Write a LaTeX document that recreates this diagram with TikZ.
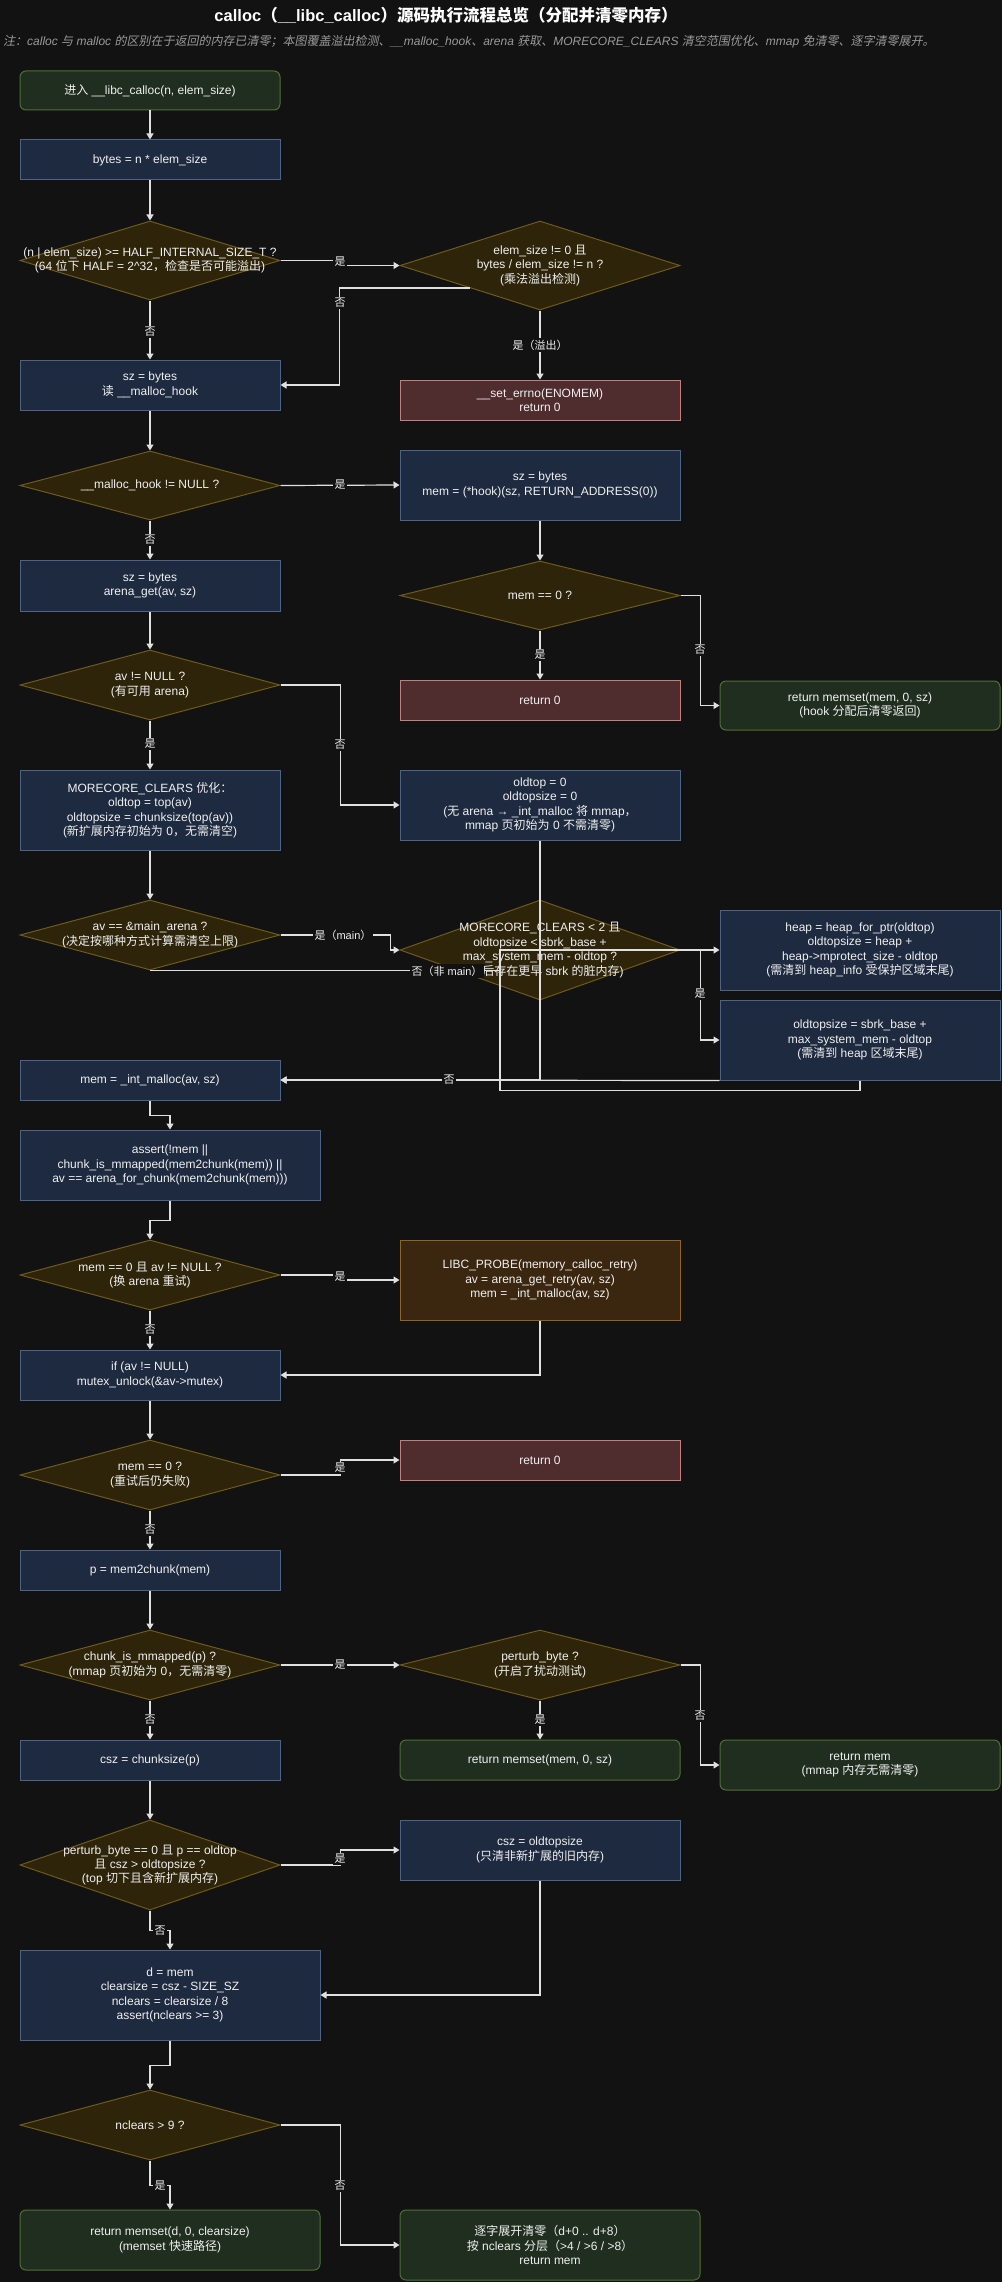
\documentclass[tikz,border=0pt]{standalone}
\usepackage{fontspec}
\setmainfont{Liberation Sans}
\newfontfamily\cjkfont{Noto Sans CJK SC}[AutoFakeSlant=0.2]
\usetikzlibrary{shapes.geometric,arrows.meta,calc}
\XeTeXinterchartokenstate=1
\chardef\CJKcls=10
\newcount\cjkcnt
\cjkcnt="3000
\loop\XeTeXcharclass\cjkcnt=\CJKcls\advance\cjkcnt by 1\relax\ifnum\cjkcnt<"3040\repeat
\cjkcnt="4E00
\loop\XeTeXcharclass\cjkcnt=\CJKcls\advance\cjkcnt by 1\relax\ifnum\cjkcnt<"A000\repeat
\cjkcnt="FF00
\loop\XeTeXcharclass\cjkcnt=\CJKcls\advance\cjkcnt by 1\relax\ifnum\cjkcnt<"FFF0\repeat
\XeTeXinterchartoks 0 \CJKcls={\begingroup\cjkfont}
\XeTeXinterchartoks 4095 \CJKcls={\begingroup\cjkfont}
\XeTeXinterchartoks \CJKcls 0={\endgroup}
\XeTeXinterchartoks \CJKcls 4095={\endgroup}
\definecolor{bgc}{HTML}{121212}
\definecolor{bluef}{HTML}{1D2A3F}
\definecolor{blueb}{HTML}{4E6485}
\definecolor{redf}{HTML}{4F2C2D}
\definecolor{redb}{HTML}{C08080}
\definecolor{greenf}{HTML}{1F2E1F}
\definecolor{greenb}{HTML}{4F7035}
\definecolor{orf}{HTML}{3B2710}
\definecolor{orb}{HTML}{8D6422}
\definecolor{diaf}{HTML}{2D2409}
\definecolor{diab}{HTML}{6E5A1C}
\definecolor{txtc}{HTML}{F0F0F0}
\definecolor{notec}{HTML}{9A9A9A}
\definecolor{linec}{HTML}{E0E0E0}
\tikzset{
 base/.style={draw, line width=1pt, align=center, text=txtc, font=\fontsize{12}{14.4}\selectfont, inner sep=0pt},
 bbox/.style={base, rectangle, fill=bluef, draw=blueb},
 rbox/.style={base, rectangle, fill=redf, draw=redb},
 gbox/.style={base, rectangle, rounded corners=6pt, fill=greenf, draw=greenb},
 obox/.style={base, rectangle, fill=orf, draw=orb},
 dia/.style={draw=diab, fill=diaf, line width=1pt, shape=diamond, inner sep=0pt},
 dtxt/.style={align=center, text=txtc, font=\fontsize{12}{14.4}\selectfont, inner sep=0pt},
 arr/.style={draw=linec, line width=1.2pt, -{Triangle[length=6pt,width=7pt]}},
 ln/.style={draw=linec, line width=1.2pt},
 lbl/.style={fill=bgc, text=txtc, font=\fontsize{11}{13}\selectfont, inner sep=1.5pt},
 ttl/.style={text=white, font=\bfseries\fontsize{16.5}{20}\selectfont, inner sep=0pt},
 notes/.style={text=notec, font=\itshape\fontsize{12}{14.4}\selectfont, inner sep=0pt}
}
\begin{document}
\begin{tikzpicture}[x=1pt,y=-1pt]
\fill[bgc] (0,0) rectangle (1002,2282);
\useasboundingbox (0,0) rectangle (1002,2282);

\node[ttl] (title) at (446,15) {calloc（\_\_libc\_calloc）源码执行流程总览（分配并清零内存）};
\node[notes, anchor=west] (note) at (3,42) {注：calloc 与 malloc 的区别在于返回的内存已清零；本图覆盖溢出检测、\_\_malloc\_hook、arena 获取、MORECORE\_CLEARS 清空范围优化、mmap 免清零、逐字清零展开。};

% nodes
\node[gbox, minimum width=260pt, minimum height=39pt] (start) at (150,90.5) {进入 \_\_libc\_calloc(n, elem\_size)};
\node[bbox, minimum width=260pt, minimum height=40pt] (bytes) at (150,160) {bytes = n * elem\_size};
\node[dia, minimum width=260pt, minimum height=79pt] (d1) at (150,260.5) {};
\node[dtxt] (d1t) at (d1.center) {(n | elem\_size) >= HALF\_INTERNAL\_SIZE\_T ?\\(64 位下 HALF = 2\textasciicircum 32，检查是否可能溢出)};
\node[dia, minimum width=280pt, minimum height=89pt] (d2) at (540,265.5) {};
\node[dtxt] (d2t) at (d2.center) {elem\_size != 0 且\\bytes / elem\_size != n ?\\(乘法溢出检测)};
\node[bbox, minimum width=260pt, minimum height=50pt] (szread) at (150,385) {sz = bytes\\读 \_\_malloc\_hook};
\node[rbox, minimum width=280pt, minimum height=40pt] (errno) at (540,400) {\_\_set\_errno(ENOMEM)\\return 0};
\node[dia, minimum width=260pt, minimum height=69pt] (hookd) at (150,485.5) {};
\node[dtxt] (hookdt) at (hookd.center) {\_\_malloc\_hook != NULL ?};
\node[bbox, minimum width=280pt, minimum height=70pt] (hookbox) at (540,485) {sz = bytes\\mem = (*hook)(sz, RETURN\_ADDRESS(0))};
\node[dia, minimum width=280pt, minimum height=69pt] (mem0) at (540,595.5) {};
\node[dtxt] (mem0t) at (mem0.center) {mem == 0 ?};
\node[rbox, minimum width=280pt, minimum height=40pt] (ret0a) at (540,700) {return 0};
\node[gbox, minimum width=280pt, minimum height=49pt] (retms) at (860,705.5) {return memset(mem, 0, sz)\\(hook 分配后清零返回)};
\node[bbox, minimum width=260pt, minimum height=51pt] (arena) at (150,585.5) {sz = bytes\\arena\_get(av, sz)};
\node[dia, minimum width=260pt, minimum height=70pt] (avd) at (150,685) {};
\node[dtxt] (avdt) at (avd.center) {av != NULL ?\\(有可用 arena)};
\node[bbox, minimum width=260pt, minimum height=80pt] (morec) at (150,810) {MORECORE\_CLEARS 优化：\\oldtop = top(av)\\oldtopsize = chunksize(top(av))\\(新扩展内存初始为 0，无需清空)};
\node[bbox, minimum width=280pt, minimum height=70pt] (oldtop0) at (540,805) {oldtop = 0\\oldtopsize = 0\\(无 arena → \_int\_malloc 将 mmap，\\mmap 页初始为 0 不需清零)};
\node[dia, minimum width=260pt, minimum height=70pt] (maind) at (150,935) {};
\node[dtxt] (maindt) at (maind.center) {av == \&main\_arena ?\\(决定按哪种方式计算需清空上限)};
\node[dia, minimum width=280pt, minimum height=100pt] (mcd) at (540,950) {};
\node[dtxt] (mcdt) at (mcd.center) {MORECORE\_CLEARS < 2 且\\oldtopsize < sbrk\_base +\\max\_system\_mem - oldtop ?\\\hspace*{26pt}后存在更早 sbrk 的脏内存)};
\node[bbox, minimum width=280pt, minimum height=80pt] (heap) at (860,950) {heap = heap\_for\_ptr(oldtop)\\oldtopsize = heap +\\heap->mprotect\_size - oldtop\\(需清到 heap\_info 受保护区域末尾)};
\node[bbox, minimum width=280pt, minimum height=80pt] (oldsz) at (860,1040) {oldtopsize = sbrk\_base +\\max\_system\_mem - oldtop\\(需清到 heap 区域末尾)};
\node[bbox, minimum width=260pt, minimum height=40pt] (intm) at (150,1080) {mem = \_int\_malloc(av, sz)};
\node[bbox, minimum width=300pt, minimum height=70pt] (assert) at (170,1165) {assert(!mem ||\\chunk\_is\_mmapped(mem2chunk(mem)) ||\\av == arena\_for\_chunk(mem2chunk(mem)))};
\node[dia, minimum width=260pt, minimum height=70pt] (retryd) at (150,1275) {};
\node[dtxt] (retrydt) at (retryd.center) {mem == 0 且 av != NULL ?\\(换 arena 重试)};
\node[obox, minimum width=280pt, minimum height=80pt] (retry) at (540,1280) {LIBC\_PROBE(memory\_calloc\_retry)\\av = arena\_get\_retry(av, sz)\\mem = \_int\_malloc(av, sz)};
\node[bbox, minimum width=260pt, minimum height=50pt] (unlock) at (150,1375) {if (av != NULL)\\mutex\_unlock(\&av->mutex)};
\node[dia, minimum width=260pt, minimum height=70pt] (fail) at (150,1475) {};
\node[dtxt] (failt) at (fail.center) {mem == 0 ?\\(重试后仍失败)};
\node[rbox, minimum width=280pt, minimum height=40pt] (ret0b) at (540,1460) {return 0};
\node[bbox, minimum width=260pt, minimum height=40pt] (p) at (150,1570) {p = mem2chunk(mem)};
\node[dia, minimum width=260pt, minimum height=70pt] (mmapd) at (150,1665) {};
\node[dtxt] (mmapdt) at (mmapd.center) {chunk\_is\_mmapped(p) ?\\(mmap 页初始为 0，无需清零)};
\node[dia, minimum width=280pt, minimum height=70pt] (perturbd) at (540,1665) {};
\node[dtxt] (perturbdt) at (perturbd.center) {perturb\_byte ?\\(开启了扰动测试)};
\node[gbox, minimum width=280pt, minimum height=40pt] (retms2) at (540,1760) {return memset(mem, 0, sz)};
\node[gbox, minimum width=280pt, minimum height=50pt] (retmem) at (860,1765) {return mem\\(mmap 内存无需清零)};
\node[bbox, minimum width=260pt, minimum height=40pt] (csz) at (150,1760) {csz = chunksize(p)};
\node[dia, minimum width=260pt, minimum height=90pt] (topd) at (150,1865) {};
\node[dtxt] (topdt) at (topd.center) {perturb\_byte == 0 且 p == oldtop\\且 csz > oldtopsize ?\\(top 切下且含新扩展内存)};
\node[bbox, minimum width=280pt, minimum height=60pt] (cszold) at (540,1850) {csz = oldtopsize\\(只清非新扩展的旧内存)};
\node[bbox, minimum width=300pt, minimum height=90pt] (dbox) at (170,1995) {d = mem\\clearsize = csz - SIZE\_SZ\\nclears = clearsize / 8\\assert(nclears >= 3)};
\node[dia, minimum width=260pt, minimum height=70pt] (ncd) at (150,2125) {};
\node[dtxt] (ncdt) at (ncd.center) {nclears > 9 ?};
\node[gbox, minimum width=300pt, minimum height=60pt] (retms3) at (170,2240) {return memset(d, 0, clearsize)\\(memset 快速路径)};
\node[gbox, minimum width=300pt, minimum height=70pt] (unroll) at (550,2245) {逐字展开清零（d+0 .. d+8）\\按 nclears 分层（>4 / >6 / >8）\\return mem};

% edges
\draw[arr] (start.south) -- (bytes.north);
\draw[arr] (bytes.south) -- (d1.north);
\draw[arr] (d1.east) -- ++(59,0) |- (d2.west);
\draw[arr] ($(d2.west)!0.5!(d2.south)$) -- ++(-130,0) |- (szread.east);
\draw[arr] (d1.south) -- (szread.north);
\draw[arr] (d2.south) -- (errno.north);
\draw[arr] (szread.south) -- (hookd.north);
\draw[arr] (hookd.east) -- (hookbox.west);
\draw[arr] (hookbox.south) -- (mem0.north);
\draw[arr] (mem0.south) -- (ret0a.north);
\draw[arr] (mem0.east) -- ++(20,0) |- (retms.west);
\draw[arr] (hookd.south) -- (arena.north);
\draw[arr] (arena.south) -- (avd.north);
\draw[arr] (avd.south) -- (morec.north);
\draw[arr] (avd.east) -- ++(60,0) |- (oldtop0.west);
\draw[arr] (morec.south) -- (maind.north);
\draw[arr] (maind.east) -- ++(110,0) |- (mcd.west);
\draw[arr] (maind.south) -- ++(350,0) |- (heap.west);
\draw[arr] (mcd.east) -- ++(20,0) |- (oldsz.west);
\draw[ln] (oldtop0.south) -- (mcd.south);
\draw[arr] (mcd.south) |- (intm.east);
\draw[arr] (oldsz.south west) -- (intm.east);
\draw[ln] (oldsz.south) -- ++(0,10) -| ($(maind.south)+(350,0)$);
\draw[arr] (intm.south) -- ++(0,15) -| (assert.north);
\draw[arr] (assert.south) -- ++(0,20) -| (retryd.north);
\draw[arr] (retryd.east) -- ++(60,0) |- (retry.west);
\draw[arr] (retryd.south) -- (unlock.north);
\draw[arr] (retry.south) |- (unlock.east);
\draw[arr] (unlock.south) -- (fail.north);
\draw[arr] (fail.east) -- ++(60,0) |- (ret0b.west);
\draw[arr] (fail.south) -- (p.north);
\draw[arr] (p.south) -- (mmapd.north);
\draw[arr] (mmapd.east) -- (perturbd.west);
\draw[arr] (perturbd.south) -- (retms2.north);
\draw[arr] (perturbd.east) -- ++(20,0) |- (retmem.west);
\draw[arr] (mmapd.south) -- (csz.north);
\draw[arr] (csz.south) -- (topd.north);
\draw[arr] (topd.east) -- ++(60,0) |- (cszold.west);
\draw[arr] (topd.south) -- ++(0,20) -| (dbox.north);
\draw[arr] (cszold.south) |- (dbox.east);
\draw[arr] (dbox.south) -- ++(0,25) -| (ncd.north);
\draw[arr] (ncd.south) -- ++(0,25) -| (retms3.north);
\draw[arr] (ncd.east) -- ++(60,0) |- (unroll.west);

% labels
\node[lbl] (l1) at (340,262) {是};
\node[lbl] (l2) at (340,303) {否};
\node[lbl] (l3) at (150,332) {否};
\node[lbl] (l4) at (540,345) {是（溢出）};
\node[lbl] (l5) at (340,485) {是};
\node[lbl] (l6) at (150,540) {否};
\node[lbl] (l7) at (540,655) {是};
\node[lbl] (l8) at (700,650) {否};
\node[lbl] (l9) at (150,744) {是};
\node[lbl] (l10) at (340,745) {否};
\node[lbl] (l11) at (343,935) {是（main）};
\node[lbl] (l12) at (447,971) {否（非 main）};
\node[lbl] (l13) at (700,994) {是};
\node[lbl] (l14) at (449,1080) {否};
\node[lbl] (l15) at (340,1277) {是};
\node[lbl] (l16) at (150,1330) {否};
\node[lbl] (l17) at (340,1468) {是};
\node[lbl] (l18) at (150,1530) {否};
\node[lbl] (l19) at (340,1665) {是};
\node[lbl] (l20) at (540,1720) {是};
\node[lbl] (l21) at (700,1716) {否};
\node[lbl] (l22) at (150,1720) {否};
\node[lbl] (l23) at (340,1859) {是};
\node[lbl] (l24) at (160,1931) {否};
\node[lbl] (l25) at (160,2186) {是};
\node[lbl] (l26) at (340,2186) {否};
\end{tikzpicture}
\end{document}
